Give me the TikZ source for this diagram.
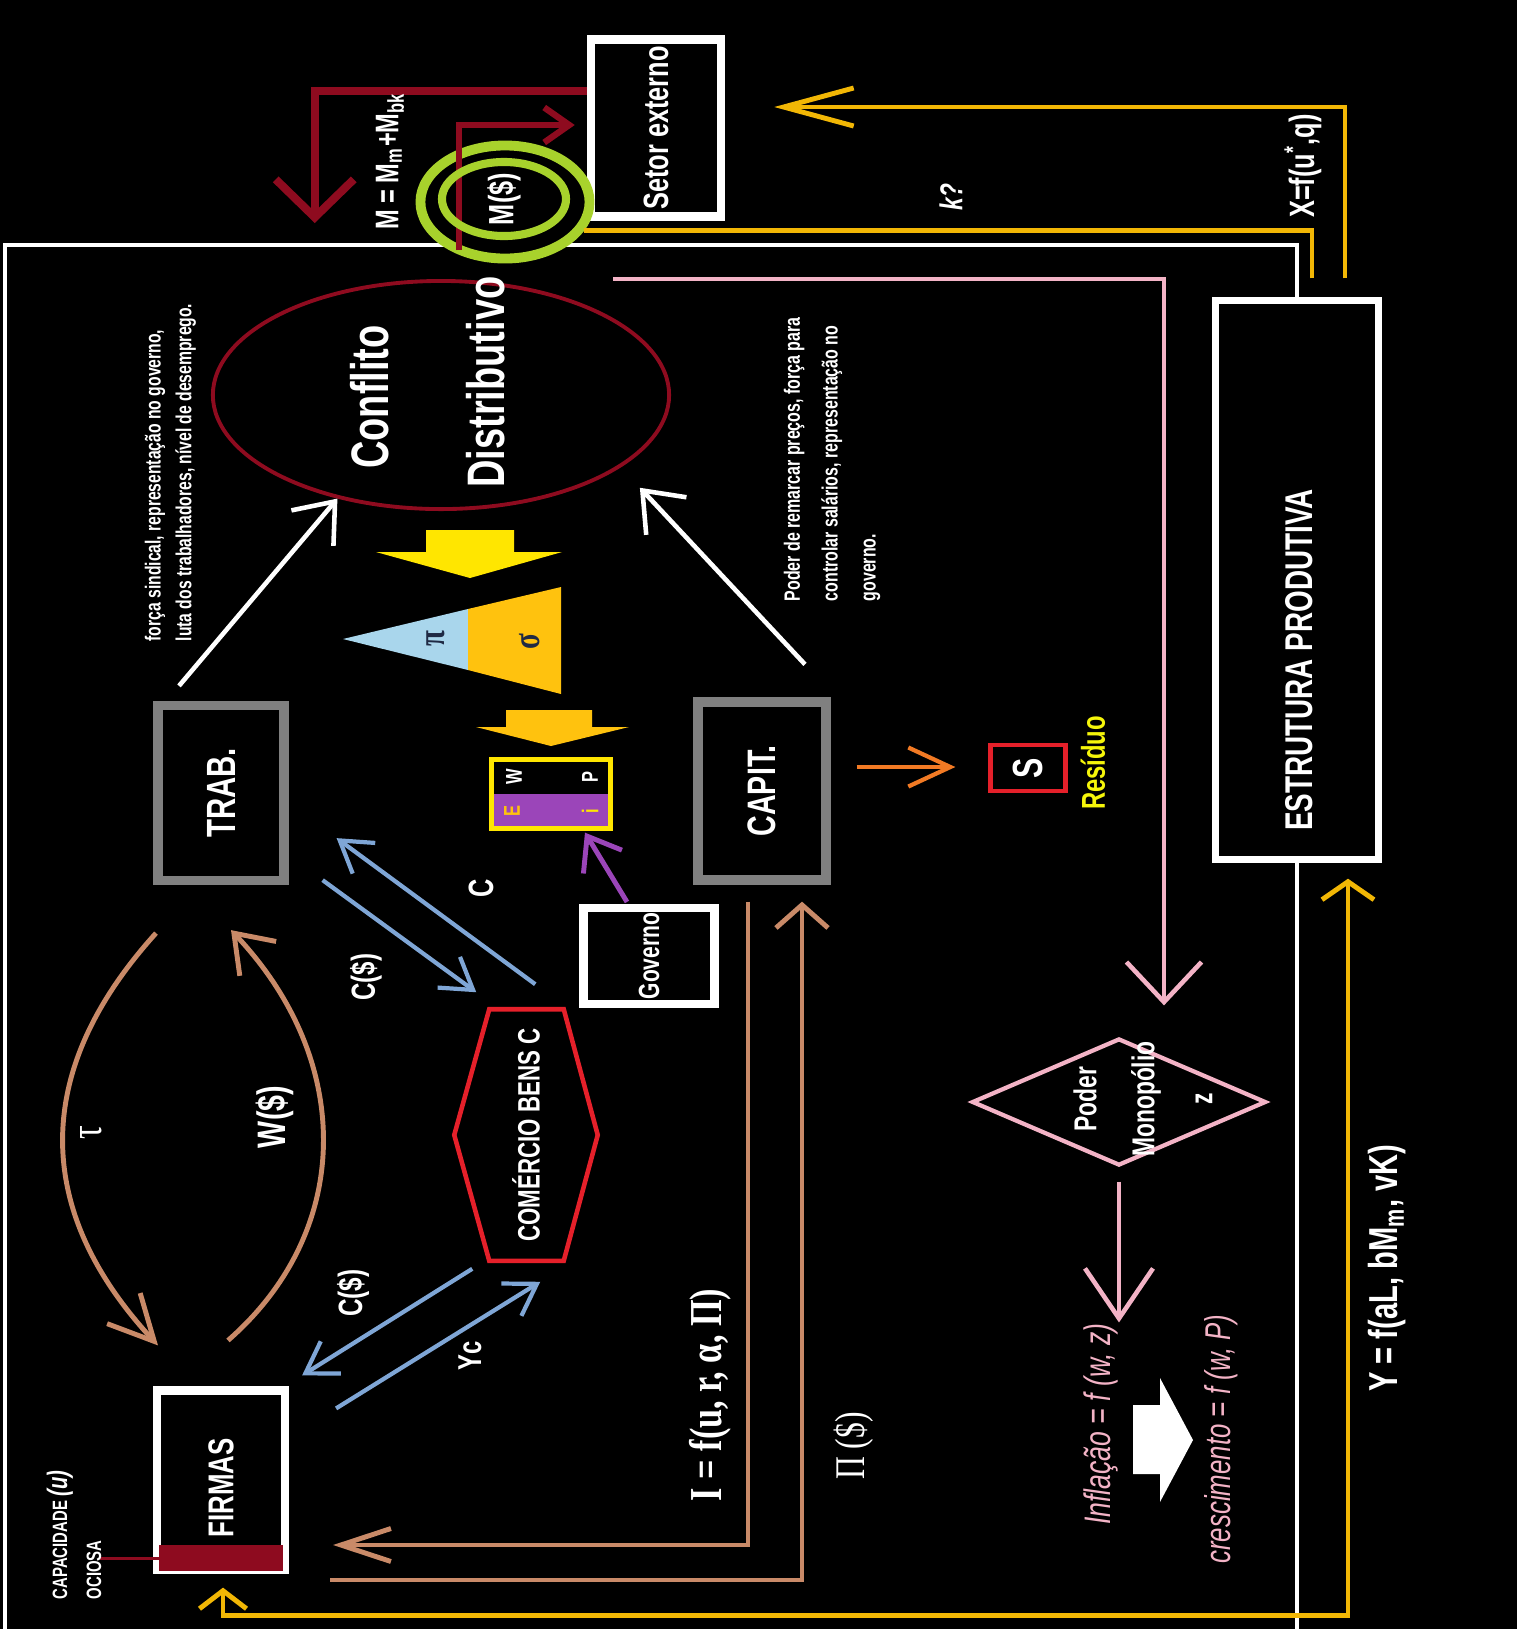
\documentclass[tikz,border=0pt]{standalone}
\usepackage{fontspec}
\setmainfont{Liberation Sans}[FakeStretch=0.72]
\newfontfamily\serifcn{Liberation Serif}[FakeStretch=0.75]
\usepackage{xcolor}
\usepackage{graphicx}
\usepackage{tikz}
\usetikzlibrary{arrows.meta,shapes.geometric}

\definecolor{mred}{HTML}{8E0B1F}
\definecolor{ringgreen}{HTML}{A8D22C}
\definecolor{ygold}{HTML}{F2B705}
\definecolor{pinkc}{HTML}{F3B3C6}
\definecolor{tanc}{HTML}{C98A68}
\definecolor{bluec}{HTML}{7FA6D6}
\definecolor{boxgrey}{HTML}{808080}
\definecolor{hexred}{HTML}{E5202A}
\definecolor{purp}{HTML}{9B45B9}
\definecolor{ltblue}{HTML}{A9D6EC}
\definecolor{ambar}{HTML}{FFC20E}
\definecolor{ybright}{HTML}{FFE600}
\definecolor{orng}{HTML}{F27A24}
\definecolor{resyel}{HTML}{F5F50A}
\definecolor{greekc}{HTML}{1F2A44}

\begin{document}
\begin{tikzpicture}[
    x=0.01cm, y=-0.01cm,
    wbox/.style={draw=white, line width=2.3pt, inner sep=0pt, text=white, font=\bfseries},
    gbox/.style={wbox, draw=boxgrey, line width=2.6pt},
    vtxt/.style={rotate=90, inner sep=0pt, text=white, font=\bfseries},
    ring/.style={ellipse, draw=ringgreen, inner sep=0pt},
    warr/.style={white, line width=1.3pt, -{Straight Barb[length=3.5mm,width=5.5mm]}},
    yline/.style={ygold, line width=1.4pt},
    tline/.style={tanc, line width=1.4pt},
    barr/.style={bluec, line width=1.2pt, -{Straight Barb[length=3mm,width=3.8mm]}},
    pline/.style={pinkc, line width=1.3pt}
  ]
    \useasboundingbox (0,0) rectangle (1522,1629);
    \fill[black] (0,0) rectangle (1522,1629);
    \fill[white] (1517,0) rectangle (1522,1629);

    % boxes
    \node[wbox, line width=2.4pt, minimum width=1.30cm, minimum height=1.77cm,
      font=\bfseries\fontsize{10}{12}\selectfont] (setor) at (656,128) {\rotatebox{90}{Setor externo}};
    \node[wbox, line width=2pt, minimum width=1.62cm, minimum height=5.58cm] (estrutura) at (1297,580) {};
    \node[vtxt, font=\bfseries\fontsize{11}{13}\selectfont] (estrutxt) at (1299,660) {ESTRUTURA PRODUTIVA};
    \node[gbox, minimum width=1.26cm, minimum height=1.75cm,
      font=\bfseries\fontsize{11.6}{13}\selectfont] (trab) at (221,793) {\rotatebox{90}{TRAB.}};
    \node[gbox, minimum width=1.28cm, minimum height=1.78cm,
      font=\bfseries\fontsize{11.3}{13}\selectfont] (capit) at (762,791) {\rotatebox{90}{CAPIT.}};
    \node[wbox, minimum width=1.28cm, minimum height=1.79cm] (firmas) at (221,1480) {};
    \fill[mred] ([shift={(6,-3)}]firmas.south west) rectangle ([shift={(-6,-29)}]firmas.south east);
    \node[vtxt, font=\bfseries\fontsize{10.2}{12}\selectfont] (firmtxt) at ([shift={(0,8)}]firmas.center) {FIRMAS};
    \draw[mred, line width=1pt] ([shift={(6,-15)}]firmas.south west) -- ++(-59,0);
    \node[vtxt, anchor=north west, align=left, font=\bfseries\fontsize{5.9}{9.7}\selectfont] (capac) at (46,1600)
      {CAPACIDADE {\itshape\fontsize{8}{9.7}\selectfont(u)}\\OCIOSA};
    \node[wbox, minimum width=1.31cm, minimum height=0.96cm,
      font=\bfseries\fontsize{8.3}{10}\selectfont] (governo) at (649,956) {\rotatebox{90}{Governo}};
    \node[draw=hexred, line width=1.2pt, minimum width=0.75cm, minimum height=0.46cm, inner sep=0pt,
      text=white, font=\bfseries\fontsize{12}{14}\selectfont] (sbox) at (1028,768) {\rotatebox{90}{S}};
    \node[vtxt, text=resyel, font=\bfseries\fontsize{9.4}{11}\selectfont] (resid) at (1093,763) {Resíduo};

    \node[minimum width=1.42cm, minimum height=2.5cm, inner sep=0pt, text=white,
      font=\bfseries\fontsize{8.8}{10}\selectfont] (comercio) at (526,1135) {\rotatebox{90}{COMÉRCIO BENS C}};
    \draw[hexred, line width=1.3pt] (comercio.west) -- ([shift={(35,0)}]comercio.north west)
      -- ([shift={(-34,0)}]comercio.north east) -- (comercio.east)
      -- ([shift={(-34,0)}]comercio.south east) -- ([shift={(35,0)}]comercio.south west) -- cycle;

    % conflito
    \node[ellipse, draw=mred, line width=1.1pt, minimum width=4.56cm, minimum height=2.28cm, inner sep=0pt] (conflito) at (441,395) {};
    \node[vtxt, font=\bfseries\fontsize{15}{18}\selectfont] (conftxt) at (370,397) {Conflito};
    \node[vtxt, font=\bfseries\fontsize{15}{18}\selectfont] (distxt) at (486,382) {Distributivo};
    \node[vtxt, anchor=north west, align=left, font=\bfseries\fontsize{6.2}{8.8}\selectfont] (trabnote) at (144,642)
      {força sindical, representação no governo,\\luta dos trabalhadores, nível de desemprego.};
    \node[vtxt, anchor=north west, align=left, font=\bfseries\fontsize{6.3}{10.8}\selectfont] (capitnote) at (783,602)
      {Poder de remarcar preços, força para\\controlar salários, representação no\\governo.};

    % distribution
    \fill[ybright] (426,530) -- (514,530) -- (514,552) -- (562,552) -- (470,578) -- (376,552) -- (426,552) -- cycle;
    \fill[ltblue] (343,639) -- (468,609) -- (468,670) -- cycle;
    \fill[ambar] (468,609) -- (561,587) -- (561,694) -- (468,670) -- cycle;
    \node[vtxt, text=greekc, font=\serifcn\bfseries\fontsize{11}{12}\selectfont] (pitxt) at (436,639) {π};
    \node[vtxt, text=greekc, font=\serifcn\bfseries\fontsize{11}{12}\selectfont] (sigtxt) at (530,642) {σ};
    \fill[ambar] (506,710) -- (592,710) -- (592,727) -- (629,727) -- (551,746) -- (476,727) -- (506,727) -- cycle;
    \node[draw=ybright, line width=1.2pt, minimum width=1.19cm, minimum height=0.69cm, inner sep=0pt,
      path picture={\fill[purp] (path picture bounding box.west) rectangle (path picture bounding box.south east);}] (eqbox) at (551,794) {};
    \node[vtxt, font=\bfseries\fontsize{6.5}{7}\selectfont] at (514,777) {W};
    \node[vtxt, font=\bfseries\fontsize{6.5}{7}\selectfont] at (590,777) {P};
    \node[vtxt, text=ambar, font=\bfseries\fontsize{6.5}{7}\selectfont] at (512,811) {E};
    \node[vtxt, text=ybright, font=\bfseries\fontsize{6.5}{7}\selectfont] at (590,811) {i};

    % poder de monopolio
    \node[diamond, draw=pinkc, line width=1.2pt, minimum width=2.94cm, minimum height=1.27cm, inner sep=0pt] (poder) at (1119,1102) {};
    \node[vtxt, align=center, font=\bfseries\fontsize{9}{16.5}\selectfont] (podertxt) at (1143,1099) {Poder\\Monopólio\\z};
    \node[vtxt, text=pinkc, font=\itshape\fontsize{10.5}{12}\selectfont] (inflacao) at (1101,1424) {Inflação = f (w, z)};
    \node[vtxt, text=pinkc, font=\itshape\fontsize{10.2}{12}\selectfont] (cresc) at (1221,1439) {crescimento = f (w, P)};
    \fill[white] (1133,1405) -- (1160,1405) -- (1160,1378) -- (1193,1440) -- (1160,1502) -- (1160,1474) -- (1133,1474) -- cycle;

    % frame
    \draw[white, line width=1.1pt] (estrutura.north) -- ++(0,-52) -| (5,1640);
    \draw[white, line width=1.1pt] (estrutura.south) -- ++(0,800);

    % importacoes
    \draw[mred, line width=2.3pt, -{Straight Barb[length=3.8mm,width=7.8mm]}] ([shift={(0,-37)}]setor.west) -- ++(-272,0) -- ++(0,132);
    \node[vtxt, font=\bfseries\fontsize{9.3}{11}\selectfont] (mtxt) at (390,161) {M = M\textsubscript{m}+M\textsubscript{bk}};
    \node[ring, fill=black, line width=2.8pt, minimum width=1.69cm, minimum height=1.13cm] (msd) at (505,202) {};
    \draw[mred, line width=1.8pt, -{Straight Barb[length=2.5mm,width=3.5mm]}] ([shift={(-46,48)}]msd.center) |- ([shift={(-12,-3)}]setor.west);
    \node[ring, line width=2.3pt, minimum width=1.24cm, minimum height=0.74cm, text=white,
      font=\bfseries\fontsize{10}{12}\selectfont] (msdin) at (504,199) {\rotatebox{90}{M(\$)}};

    % setor externo e estrutura
    \draw[yline] ([shift={(15,-19)}]estrutura.north) |- (msd.340);
    \node[vtxt, font=\bfseries\itshape\fontsize{9}{11}\selectfont] (ktxt) at (951,197) {k?};
    \draw[yline, -{Straight Barb[length=7mm,width=3.8mm]}] ([shift={(48,-19)}]estrutura.north) |- ([shift={(49,-21)}]setor.east);
    \node[vtxt, font=\bfseries\fontsize{10}{12}\selectfont] (xtxt) at (1303,166) {X=f(u\textsuperscript{*},q)};
    \draw[yline, {Straight Barb[length=1.8mm,width=4.7mm]}-{Straight Barb[length=1.8mm,width=5.2mm]}]
      ([shift={(2,14)}]firmas.south) -- ++(0,28) -| ([shift={(51,16)}]estrutura.south);
    \node[vtxt, font=\bfseries\fontsize{11.5}{13}\selectfont] (ytxt) at (1387,1268) {Y = f(aL, bM\textsubscript{m}, vK)};

    % pink
    \draw[pline, -{Straight Barb[length=4mm,width=7.5mm]}] ([shift={(172,0)}]conflito.north) -| ([shift={(45,-31)}]poder.north);
    \draw[pline, -{Straight Barb[length=5mm,width=6.8mm]}] ([shift={(0,14)}]poder.south) -- (poder.south |- inflacao.east);

    % conflito
    \draw[warr] ([shift={(-42,-15)}]trab.north) -- (conflito.225);
    \draw[warr] ([shift={(43,-33)}]capit.north) -- ([shift={(30,14)}]conflito.335);

    % salarios e lucros
    \draw[tline, -{Straight Barb[length=4.5mm,width=4.5mm]}] ([shift={(-65,48)}]trab.south)
      .. controls +(-124,137) and +(-126,-136) .. ([shift={(-63,-41)}]firmas.north);
    \node[vtxt, font=\serifcn\fontsize{13}{14}\selectfont] (tautxt) at (91,1133) {τ};
    \draw[tline, -{Straight Barb[length=3.5mm,width=5mm]}] ([shift={(7,-46)}]firmas.north)
      .. controls +(126,-110) and +(123,130) .. ([shift={(10,45)}]trab.south);
    \node[vtxt, font=\bfseries\fontsize{11.3}{13}\selectfont] (wtxt) at (275,1117) {W(\$)};
    \draw[tline, -{Straight Barb[length=5mm,width=3.3mm]}] ([shift={(-14,17)}]capit.south) |- ([shift={(44,65)}]firmas.east);
    \node[vtxt, font=\serifcn\bfseries\fontsize{13}{15}\selectfont] (itxt) at (710,1395) {I = f(u, r, α, Π)};
    \draw[tline, -{Straight Barb[length=2.3mm,width=5.2mm]}] ([shift={(41,100)}]firmas.east) -| ([shift={(40,17)}]capit.south);
    \node[vtxt, font=\serifcn\fontsize{12}{14}\selectfont] (pitotxt) at (854,1446) {Π (\$)};

    % consumo
    \draw[barr] ([shift={(34,-5)}]trab.south east) -- ([shift={(22,-17)}]comercio.north west);
    \node[vtxt, font=\bfseries\fontsize{9.5}{11}\selectfont] (c1txt) at (366,977) {C(\$)};
    \draw[barr] ([shift={(81,-25)}]comercio.north west) -- ([shift={(48,-47)}]trab.south east);
    \node[vtxt, font=\bfseries\fontsize{10}{11}\selectfont] (c2txt) at (481,888) {C};
    \draw[barr] ([shift={(18,8)}]comercio.south west) -- ([shift={(13,-11)}]firmas.north east);
    \node[vtxt, font=\bfseries\fontsize{9.6}{11}\selectfont] (c3txt) at (353,1293) {C(\$)};
    \draw[barr] ([shift={(47,22)}]firmas.north east) -- ([shift={(86,21)}]comercio.south west);
    \node[vtxt, font=\bfseries\fontsize{9.4}{11}\selectfont] (yctxt) at (470,1356) {Yc};

    \draw[orng, line width=1.2pt, -{Straight Barb[length=4.2mm,width=3.9mm]}] ([shift={(26,-24)}]capit.east) -- ([shift={(-33,-1)}]sbox.west);
    \draw[purp, line width=1.4pt, -{Straight Barb[length=3mm,width=4.5mm]}] ([shift={(-22,-2)}]governo.north) -- ([shift={(34,2)}]eqbox.south);
\end{tikzpicture}
\end{document}
